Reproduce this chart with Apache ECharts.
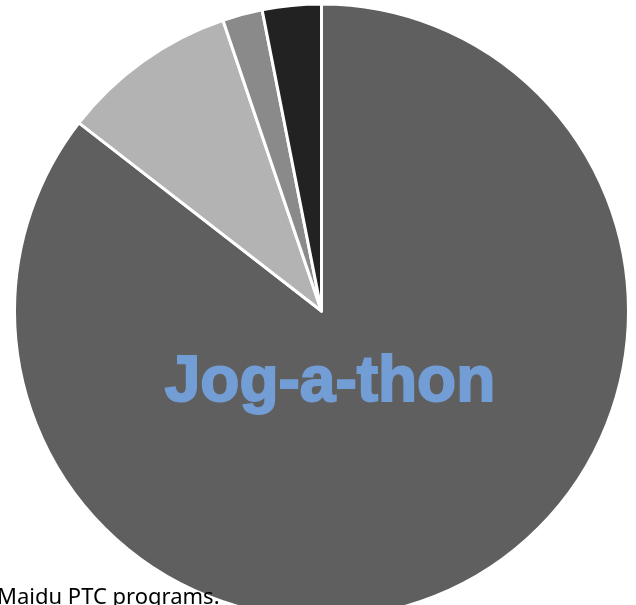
<!DOCTYPE html>
<html>
<head>
<meta charset="utf-8">
<script src="https://cdn.jsdelivr.net/npm/echarts@6/dist/echarts.min.js"></script>
<style>
  html, body { margin: 0; padding: 0; background: #fff; }
  #chart { width: 636px; height: 605px; }
</style>
</head>
<body>
<div id="chart"></div>
<script>
// slice shares, clockwise from 12 o'clock
const sliceNames = ['Jog-a-thon', 'Other 1', 'Other 2', 'Other 3']
const sliceValues = [85.5, 9.3, 2.1, 3.1]
const sliceColors = ['#5f5f5f', '#b3b3b3', '#8a8a8a', '#222222']

const chart = echarts.init(document.getElementById('chart'))

chart.setOption({
  backgroundColor: '#ffffff',
  animation: false,
  series: [
    {
      type: 'pie',
      center: [321.5, 311],
      radius: [0, 307],
      startAngle: 90,
      clockwise: true,
      label: { show: false },
      labelLine: { show: false },
      itemStyle: {
        borderColor: '#ffffff',
        borderWidth: 3
      },
      data: sliceNames.map((n, i) => ({
        name: n,
        value: sliceValues[i],
        itemStyle: { color: sliceColors[i] }
      }))
    }
  ],
  graphic: [
    {
      type: 'text',
      x: 330,
      y: 383,
      z: 100,
      style: {
        text: 'Jog-a-thon',
        textAlign: 'center',
        textVerticalAlign: 'middle',
        fontSize: 64,
        fontWeight: 'bold',
        fontFamily: 'Liberation Sans',
        fill: '#739dd5',
        stroke: '#739dd5',
        lineWidth: 2
      }
    },
    {
      type: 'text',
      x: -3,
      y: 609,
      z: 100,
      style: {
        text: 'Maidu PTC programs.',
        textAlign: 'left',
        textVerticalAlign: 'bottom',
        fontSize: 22,
        fontFamily: 'Noto Sans',
        fill: '#000000'
      }
    }
  ]
})
</script>
</body>
</html>
